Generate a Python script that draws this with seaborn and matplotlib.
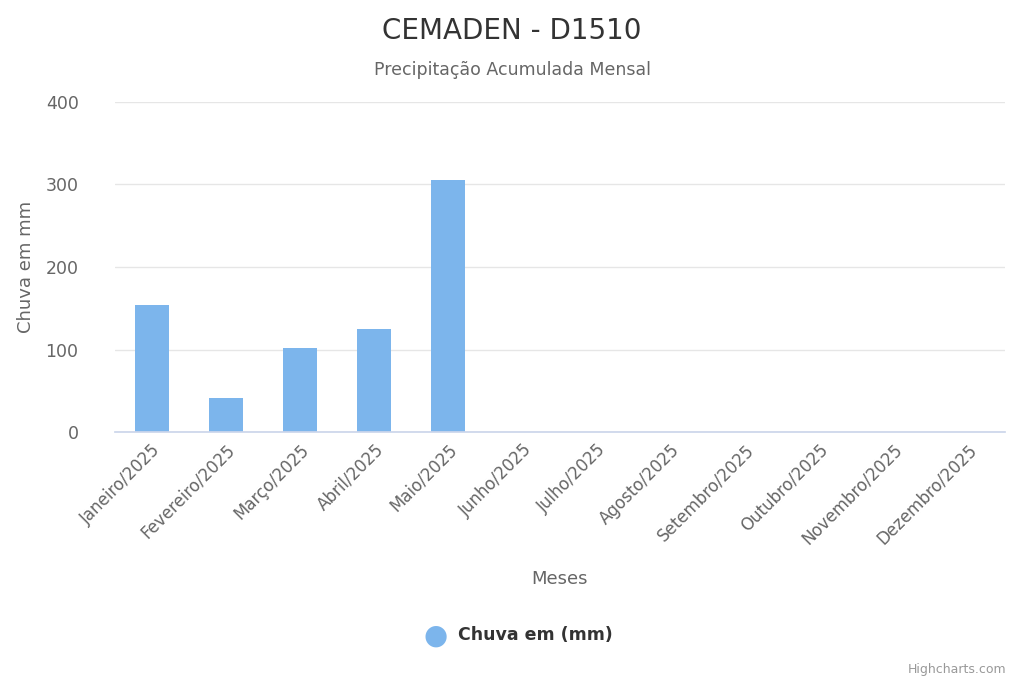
import pandas as pd
import seaborn as sns
import matplotlib.pyplot as plt

meses = ["Janeiro/2025", "Fevereiro/2025", "Março/2025", "Abril/2025", "Maio/2025",
         "Junho/2025", "Julho/2025", "Agosto/2025", "Setembro/2025", "Outubro/2025",
         "Novembro/2025", "Dezembro/2025"]
chuva = [154, 42, 102, 125, 305, 0, 0, 0, 0, 0, 0, 0]

df = pd.DataFrame({"mes": meses, "chuva": chuva})

sns.set_theme(style="white")
plt.rcParams["font.family"] = ["DejaVu Sans"]

fig = plt.figure(figsize=(10.24, 6.83), dpi=100)
ax = fig.add_axes([0.112, 0.367, 0.869, 0.484])
sns.barplot(data=df, x="mes", y="chuva", color="#7cb5ec", saturation=1, width=0.46,
            linewidth=0, ax=ax)

ax.set_ylim(0, 400)
ax.set_xlim(-0.5, 11.5)
ax.set_yticks([0, 100, 200, 300, 400])
ax.yaxis.grid(True, color="#e6e6e6", linewidth=1)
ax.set_axisbelow(True)
for s in ["top", "right", "left"]:
    ax.spines[s].set_visible(False)
ax.spines["bottom"].set_color("#ccd6eb")
ax.tick_params(axis="y", length=0, labelsize=12.5, labelcolor="#666666", pad=26)
ax.tick_params(axis="x", length=0, labelsize=12, labelcolor="#666666", pad=6)
plt.setp(ax.get_xticklabels(), rotation=45, ha="right", rotation_mode="anchor")
ax.set_xlabel("Meses", fontsize=13, color="#666666", labelpad=16)
ax.set_ylabel("Chuva em mm", fontsize=13, color="#666666")
ax.yaxis.set_label_coords(-0.09, 0.5)

fig.text(0.5, 0.955, "CEMADEN - D1510", ha="center", va="center", fontsize=20, color="#333333")
fig.text(0.5, 0.897, "Precipitação Acumulada Mensal", ha="center", va="center", fontsize=12.5, color="#666666")

fig.text(0.425, 0.07, "●", ha="center", va="center", fontsize=20, color="#7cb5ec")
fig.text(0.447, 0.07, "Chuva em (mm)", ha="left", va="center", fontsize=12.5, color="#333333", fontweight="bold")
fig.text(0.983, 0.02, "Highcharts.com", ha="right", va="center", fontsize=9, color="#999999")

fig.savefig("out.png", dpi=100)
